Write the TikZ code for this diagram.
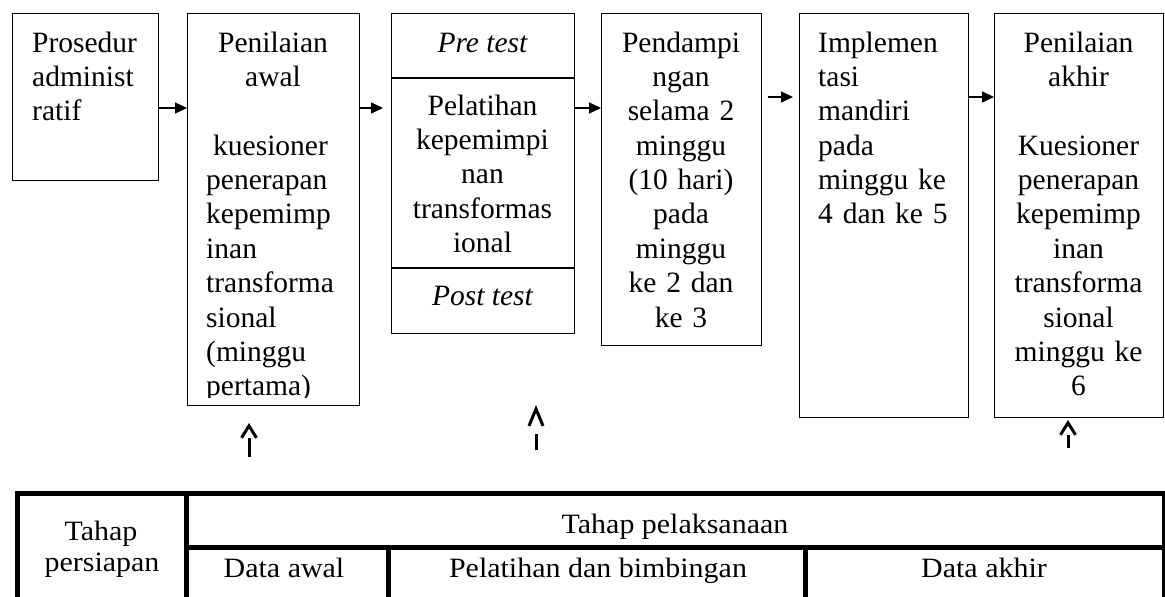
\documentclass[tikz,border=0pt]{standalone}
\usepackage{fontspec}
\usepackage{graphicx}
\setmainfont{Liberation Serif}
\usetikzlibrary{arrows.meta,calc}
\newcommand{\tstretch}[1]{\scalebox{1.07}[1]{#1}}
\begin{document}
\begin{tikzpicture}[x=1pt,y=-1pt,
  box/.style={draw,line width=1.4pt,inner sep=0pt,anchor=north west},
  cell/.style={draw,line width=5pt,inner sep=0pt,anchor=north west},
  bt/.style={inner sep=0pt,font=\fontsize{29.5}{34.4}\selectfont},
  tt/.style={inner sep=0pt,font=\fontsize{28}{33}\selectfont,anchor=base},
  harr/.style={line width=1.4pt,-{Triangle[length=12pt,width=11pt]}},
  uarr/.style={line width=3pt,-{Straight Barb[length=12pt,width=15pt,line width=3pt]}},
]
\useasboundingbox (0,0) rectangle (1165,597);
\clip (0,0) rectangle (1165,597);

% boxes
\node[box,minimum width=146pt,minimum height=167pt] (b1) at (12,13) {};
\node[box,minimum width=172pt,minimum height=392pt] (b2) at (187,13) {};
\node[box,minimum width=183pt,minimum height=320pt] (b3) at (391,13) {};
\node[box,minimum width=160pt,minimum height=332pt] (b4) at (601,13) {};
\node[box,minimum width=169pt,minimum height=404pt] (b5) at (799,13) {};
\node[box,minimum width=169pt,minimum height=404pt] (b6) at (994,13) {};
\draw[line width=1.4pt] (b3.west |- 0,78) -- (b3.east |- 0,78);
\draw[line width=1.4pt] (b3.west |- 0,268) -- (b3.east |- 0,268);

% box texts
\node[bt,anchor=base west,text width=130pt,align=left] (t1) at (32,52) {Prosedur\\administ\\ratif};
\node[bt,anchor=base,text width=170pt,align=center] (t2a) at (273,52) {Penilaian\\awal};
\begin{scope}
\clip (187,13) rectangle (359,397);
\node[bt,anchor=base west,text width=160pt,align=left] (t2b) at (206,155) {\hspace*{7pt}kuesioner\\penerapan\\kepemimp\\inan\\transforma\\sional\\(minggu\\pertama)};
\end{scope}
\node[bt,anchor=base] (t3a) at (482.5,52) {\itshape Pre test};
\node[bt,anchor=base,text width=180pt,align=center] (t3b) at (482.5,115) {Pelatihan\\kepemimpi\\nan\\transformas\\ional};
\node[bt,anchor=base] (t3c) at (482.5,305) {\itshape Post test};
\node[bt,anchor=base,text width=158pt,align=center] (t4) at (681,52) {Pendampi\\ngan\\selama 2\\minggu\\(10 hari)\\pada\\minggu\\ke 2 dan\\ke 3};
\node[bt,anchor=base west,text width=150pt,align=left] (t5) at (818,52) {Implemen\\tasi\\mandiri\\pada\\minggu ke\\4 dan ke 5};
\node[bt,anchor=base,text width=168pt,align=center] (t6) at (1078.5,52) {Penilaian\\akhir\\\mbox{}\\Kuesioner\\penerapan\\kepemimp\\inan\\transforma\\sional\\minggu ke\\6};

% horizontal arrows
\draw[harr] (b1.east |- 0,108) -- (b2.west |- 0,108);
\draw[harr,shorten >=8pt] (b2.east |- 0,108) -- (b3.west |- 0,108);
\draw[harr] (b3.east |- 0,108) -- (b4.west |- 0,108);
\draw[harr,shorten <=6pt,shorten >=6pt] (b4.east |- 0,97) -- (b5.west |- 0,97);
\draw[harr] (b5.east |- 0,97) -- (b6.west |- 0,97);

% table
\node[cell,minimum width=169pt,minimum height=150pt] (c1) at (15,491) {};
\node[cell,minimum width=978pt,minimum height=54pt] (c2) at (184,491) {};
\node[cell,minimum width=202pt,minimum height=100pt] (c3) at (184,545) {};
\node[cell,minimum width=417pt,minimum height=100pt] (c4) at (386,545) {};
\node[cell,minimum width=359pt,minimum height=100pt] (c5) at (803,545) {};
\node[tt] (l1a) at (101,540) {\tstretch{Tahap}};
\node[tt] (l1b) at (102,571) {\tstretch{persiapan}};
\node[tt] (l2) at (675,533) {\tstretch{Tahap pelaksanaan}};
\node[tt] (l3) at (284,577) {\tstretch{Data awal}};
\node[tt] (l4) at (598,577) {\tstretch{Pelatihan dan bimbingan}};
\node[tt] (l5) at (984,577) {\tstretch{Data akhir}};

% upward arrows
\coordinate (u1s) at (249,457); \coordinate (u1e) at (249,423);
\coordinate (u2s) at (536,450); \coordinate (u2e) at (536,405);
\coordinate (u3s) at (1068,448); \coordinate (u3e) at (1068,420);
\draw[uarr,dash pattern=on 19pt off 60pt] (u1s) -- (u1e);
\draw[uarr,-{Straight Barb[length=17pt,width=14pt,line width=3pt]},dash pattern=on 16pt off 60pt] (u2s) -- (u2e);
\draw[uarr,dash pattern=on 13pt off 60pt] (u3s) -- (u3e);
\end{tikzpicture}
\end{document}
